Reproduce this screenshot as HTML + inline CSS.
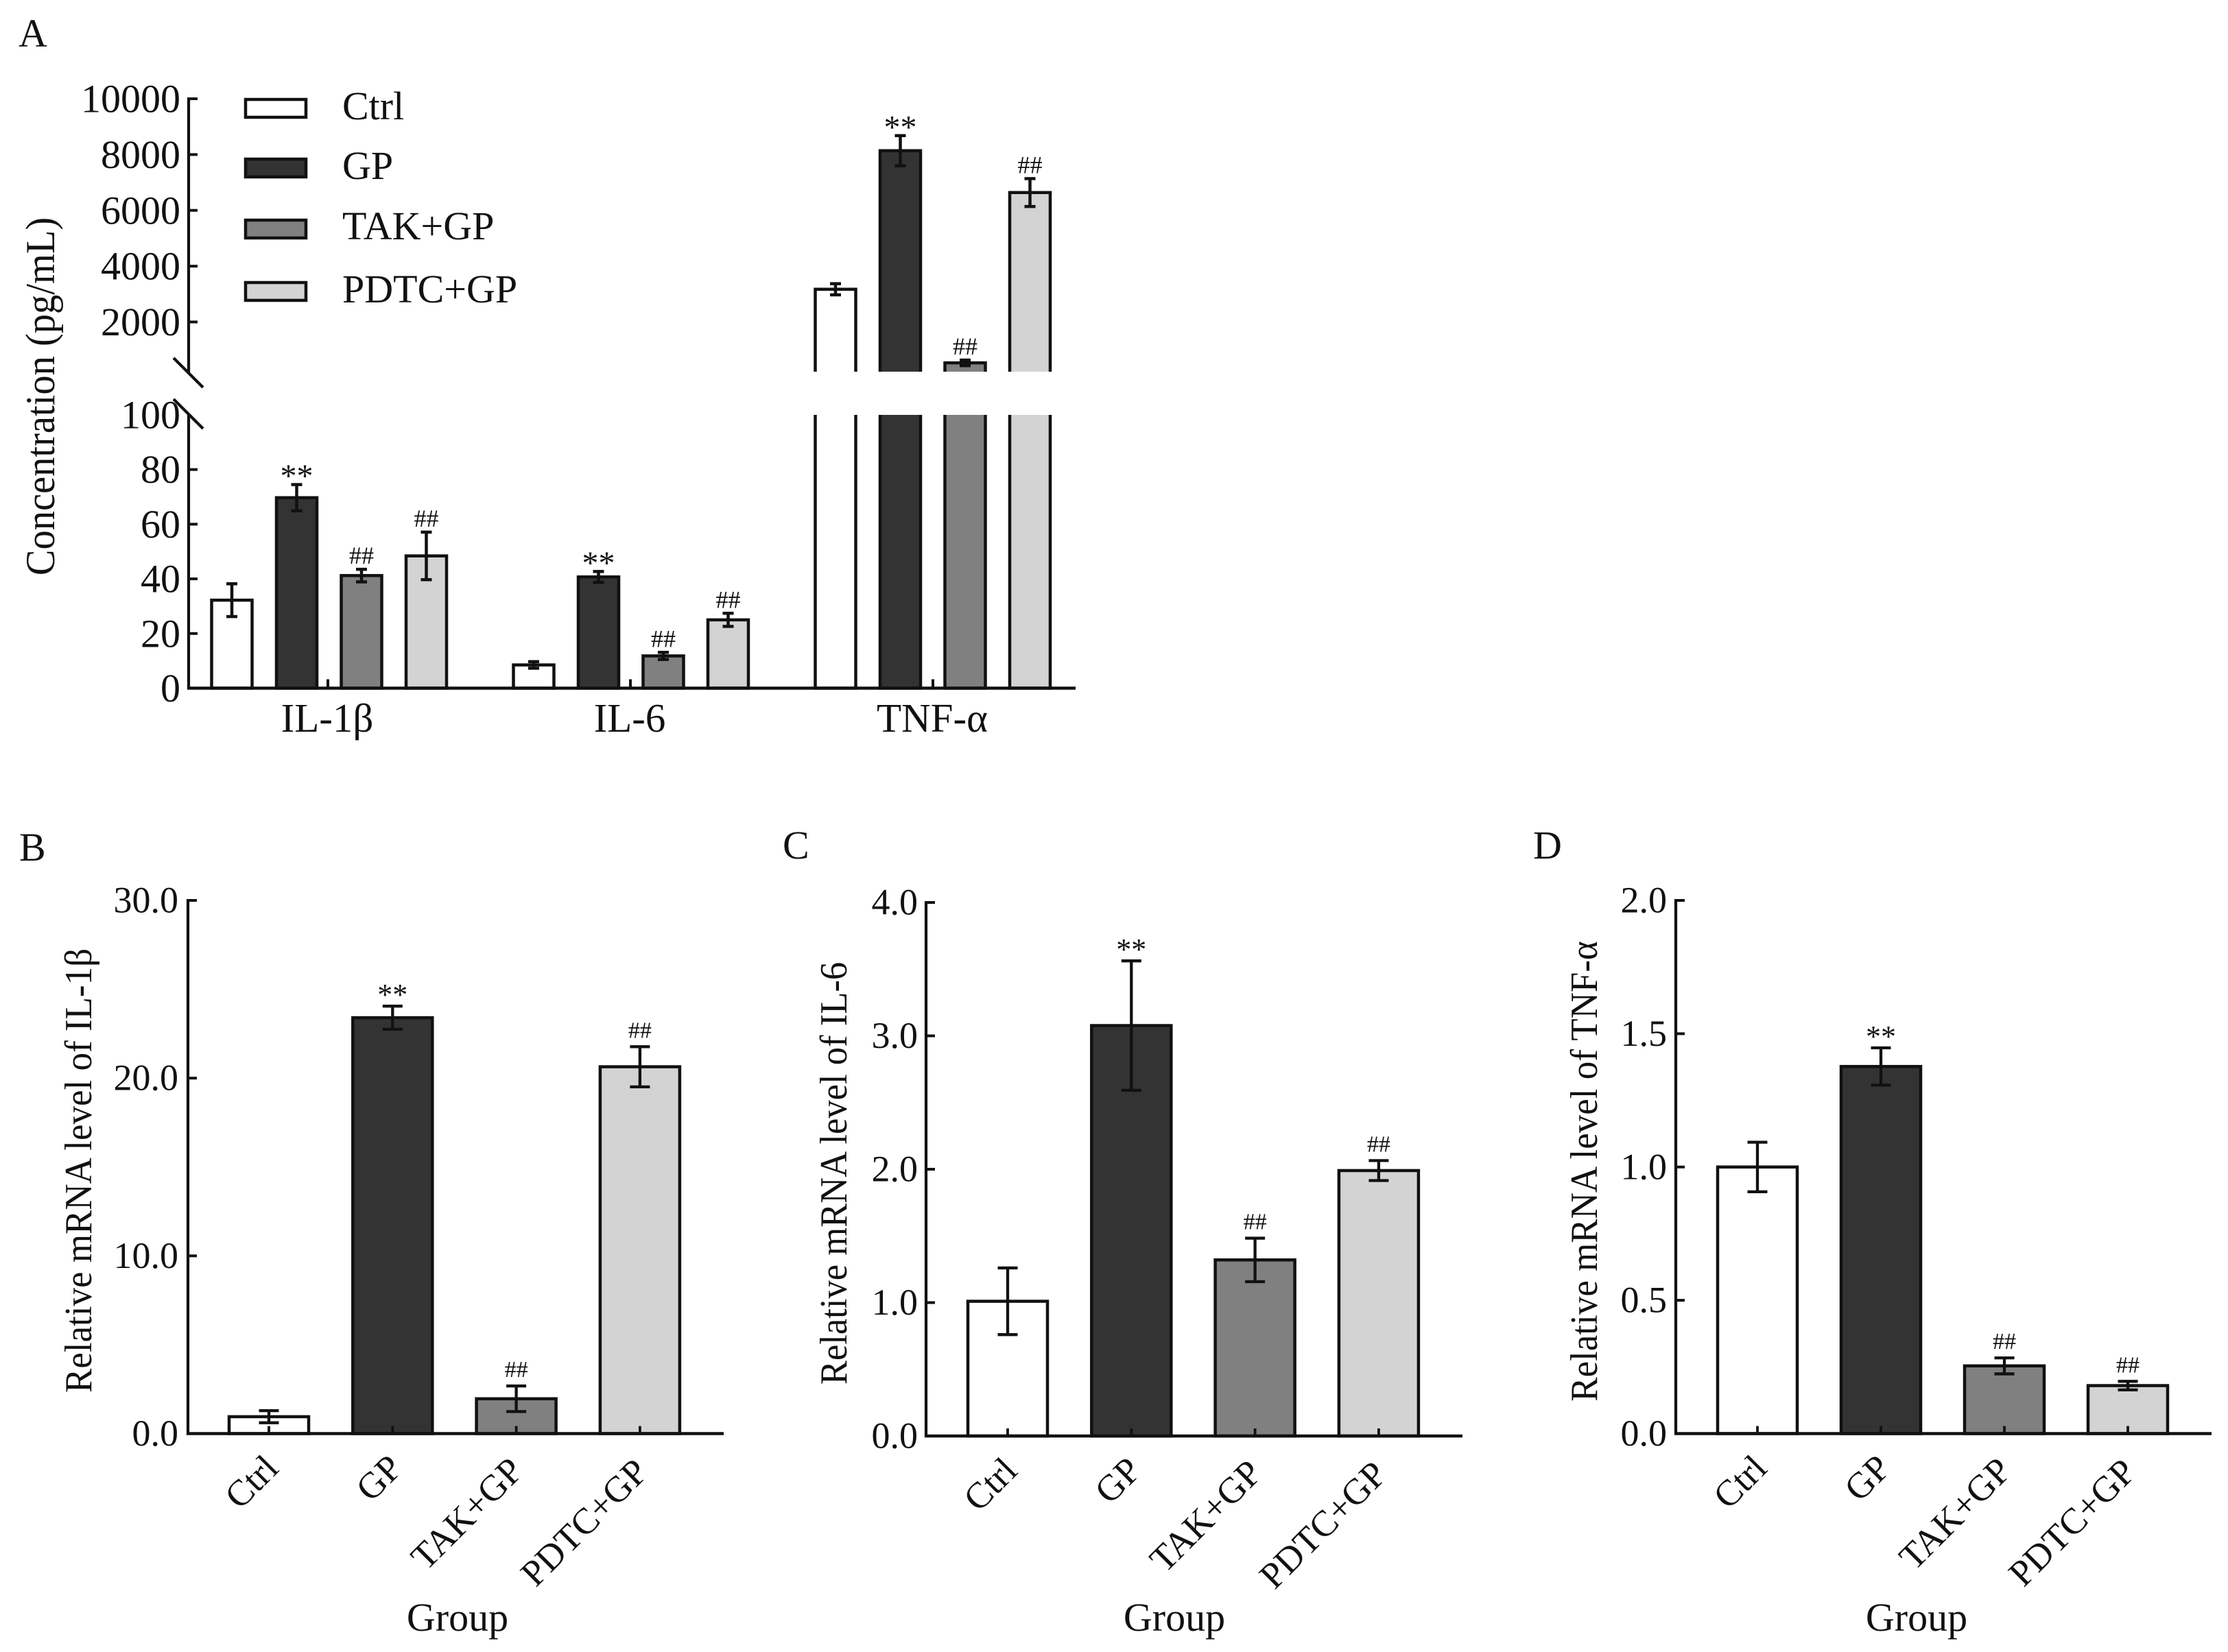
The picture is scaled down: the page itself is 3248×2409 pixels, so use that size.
<!DOCTYPE html>
<html lang="en">
<head>
<meta charset="utf-8">
<title>Cytokine concentration and relative mRNA levels</title>
<style>
html,body{margin:0;padding:0;background:#fff;}
svg{display:block;}
text{font-family:"Liberation Serif","Noto Serif CJK SC",serif;fill:#111;}
</style>
</head>
<body>
<svg id="figure" xmlns="http://www.w3.org/2000/svg" width="3248" height="2409" viewBox="0 0 3248 2409">
<defs>
<clipPath id="clip-upper"><rect x="0" y="0" width="3248" height="542"></rect></clipPath>
<clipPath id="clip-lower"><rect x="0" y="605" width="3248" height="500"></rect></clipPath>
</defs>
<rect x="0" y="0" width="3248" height="2409" fill="#fff"></rect>

<text x="27" y="68" font-size="58">A</text>
<text x="28" y="1255" font-size="58">B</text>
<text x="1141" y="1252" font-size="58">C</text>
<text x="2235" y="1252" font-size="58">D</text>

<text transform="translate(79 578) rotate(-90) scale(1 1.07)" text-anchor="middle" font-size="56.5">Concentration (pg/mL)</text>
<text transform="translate(133 1707) rotate(-90) scale(1 1.06)" text-anchor="middle" font-size="53">Relative mRNA level of IL-1β</text>
<text transform="translate(1234 1711) rotate(-90) scale(1 1.06)" text-anchor="middle" font-size="52.6">Relative mRNA level of IL-6</text>
<text transform="translate(2328 1708) rotate(-90) scale(1 1.06)" text-anchor="middle" font-size="53">Relative mRNA level of TNF-α</text>

<text x="667" y="2378" text-anchor="middle" font-size="58">Group</text>
<text x="1712" y="2378" text-anchor="middle" font-size="58">Group</text>
<text x="2794" y="2378" text-anchor="middle" font-size="58">Group</text>

<g>
<g>
<rect x="358" y="145" width="88" height="26" fill="#ffffff" stroke="#111" stroke-width="4.5"></rect>
<text x="499" y="174" font-size="58">Ctrl</text>
</g>
<g>
<rect x="358" y="232" width="88" height="26" fill="#333333" stroke="#111" stroke-width="4.5"></rect>
<text x="499" y="261" font-size="58">GP</text>
</g>
<g>
<rect x="358" y="321" width="88" height="26" fill="#808080" stroke="#111" stroke-width="4.5"></rect>
<text x="499" y="349" font-size="58">TAK+GP</text>
</g>
<g>
<rect x="358" y="412" width="88" height="26" fill="#d3d3d3" stroke="#111" stroke-width="4.5"></rect>
<text x="499" y="441" font-size="58">PDTC+GP</text>
</g>
</g>
<g id="plots"></g>
</svg>
<script>
// ---- Data ----
const categories = ['Ctrl', 'GP', 'TAK+GP', 'PDTC+GP'];
const panelAGroups = ['IL-1β', 'IL-6', 'TNF-α'];
const panelALowerTicks = [0, 20, 40, 60, 80, 100];
const panelAUpperTicks = [2000, 4000, 6000, 8000, 10000];
const panelAIl1bMeans = [32.2, 69.7, 41.2, 48.4];
const panelAIl1bErrors = [6, 4.8, 2.3, 8.7];
const panelAIl6Means = [8.5, 40.7, 11.8, 25];
const panelAIl6Errors = [1.2, 2, 1.3, 2.4];
const panelATnfMeans = [3172, 8138, 534, 6638];
const panelATnfErrors = [200, 540, 100, 500];
const panelBTicks = [0, 10, 20, 30];
const panelBMeans = [0.95, 23.4, 1.96, 20.64];
const panelBErrors = [0.34, 0.65, 0.72, 1.13];
const panelCTicks = [0, 1, 2, 3, 4];
const panelCMeans = [1.01, 3.077, 1.32, 1.99];
const panelCErrors = [0.25, 0.485, 0.163, 0.075];
const panelDTicks = [0, 0.5, 1, 1.5, 2];
const panelDMeans = [1.0, 1.377, 0.254, 0.18];
const panelDErrors = [0.093, 0.07, 0.03, 0.016];
const significance = ['', '**', '##', '##'];

const fills = ['#ffffff', '#333333', '#808080', '#d3d3d3'];
const INK = '#111';
const NS = 'http://www.w3.org/2000/svg';
const root = document.getElementById('plots');

function linear(d0, d1, r0, r1) {
  return function (v) { return r0 + (v - d0) * (r1 - r0) / (d1 - d0); };
}
function slug(s) {
  return String(s).toLowerCase().replace(/β/g, 'beta').replace(/α/g, 'alpha').replace(/[^a-z0-9]+/g, '-');
}
function drawLine(parent, x1, y1, x2, y2, width, name) {
  const el = document.createElementNS(NS, 'line');
  el.setAttribute('x1', x1);
  el.setAttribute('y1', y1);
  el.setAttribute('x2', x2);
  el.setAttribute('y2', y2);
  el.setAttribute('stroke', INK);
  el.setAttribute('stroke-width', width);
  
  
  parent.appendChild(el);
  return el;
}
function drawText(parent, x, y, str, size, anchor, name, rotate) {
  const el = document.createElementNS(NS, 'text');
  if (rotate) {
    el.setAttribute('transform', 'translate(' + x + ' ' + y + ') rotate(' + rotate + ')');
  } else {
    el.setAttribute('x', x);
    el.setAttribute('y', y);
  }
  el.setAttribute('font-size', size);
  el.setAttribute('text-anchor', anchor);
  el.textContent = str;
  
  
  parent.appendChild(el);
  return el;
}
function drawBar(parent, cx, width, top, bottom, fill, clip, name) {
  const el = document.createElementNS(NS, 'rect');
  el.setAttribute('x', cx - width / 2);
  el.setAttribute('y', top);
  el.setAttribute('width', width);
  el.setAttribute('height', Math.max(0, bottom - top));
  el.setAttribute('fill', fill);
  el.setAttribute('stroke', INK);
  el.setAttribute('stroke-width', 4.5);
  if (clip) el.setAttribute('clip-path', 'url(#' + clip + ')');
  
  
  parent.appendChild(el);
  return el;
}
function drawError(parent, cx, top, bottom, capWidth, width, name) {
  const g = document.createElementNS(NS, 'g');
  
  
  parent.appendChild(g);
  drawLine(g, cx, top, cx, bottom, width, 'error-bar-stem');
  drawLine(g, cx - capWidth / 2, top, cx + capWidth / 2, top, width, 'error-bar-cap-top');
  drawLine(g, cx - capWidth / 2, bottom, cx + capWidth / 2, bottom, width, 'error-bar-cap-bottom');
}
function drawMark(parent, cx, errTop, mark, starSize, hashSize, starOffset, hashOffset, name) {
  if (!mark) return;
  if (mark === '**') {
    drawText(parent, cx, errTop + starOffset, mark, starSize, 'middle', name);
  } else {
    drawText(parent, cx, errTop + hashOffset, mark, hashSize, 'middle', name);
  }
}

// ---- Panel A: broken y axis, grouped bars ----
function drawPanelA() {
  const g = document.createElementNS(NS, 'g');
  
  
  root.appendChild(g);

  const axisX = 275;
  const baseY = 1003.5;
  const yLower = linear(0, 100, baseY, 605);
  const yUpper = linear(2000, 10000, 469.5, 144);
  const isBroken = function (v) { return v > 100; };
  const yValue = function (v) { return isBroken(v) ? yUpper(v) : yLower(v); };
  const xBar = function (group, series) { return 338 + group * 440 + series * 94.5; };
  const xGroup = function (group) { return 478 + group * 441; };
  const meansByGroup = [panelAIl1bMeans, panelAIl6Means, panelATnfMeans];
  const errorsByGroup = [panelAIl1bErrors, panelAIl6Errors, panelATnfErrors];

  meansByGroup.forEach(function (means, gi) {
    means.forEach(function (v, si) {
      const cx = xBar(gi, si);
      const nm = 'bar-' + slug(panelAGroups[gi]) + '-' + slug(categories[si]);
      if (isBroken(v)) {
        drawBar(g, cx, 59, yUpper(v), 560, fills[si], 'clip-upper', nm + '-upper');
        drawBar(g, cx, 59, 590, baseY, fills[si], 'clip-lower', nm + '-lower');
      } else {
        drawBar(g, cx, 59, yValue(v), baseY, fills[si], null, nm);
      }
    });
  });

  meansByGroup.forEach(function (means, gi) {
    means.forEach(function (v, si) {
      const cx = xBar(gi, si);
      const e = errorsByGroup[gi][si];
      const top = yValue(v + e);
      const bottom = yValue(v - e);
      const nm = slug(panelAGroups[gi]) + '-' + slug(categories[si]);
      drawError(g, cx, top, bottom, 16, 4.5, 'error-bar-' + nm);
      drawMark(g, cx, top, significance[si], 48, 36, 3.5, -8, 'significance-' + nm);
    });
  });

  // axes
  drawLine(g, axisX, 142, axisX, 544, 4.2, 'panel-a-y-axis-upper');
  drawLine(g, axisX, 603, axisX, baseY + 2, 4.2, 'panel-a-y-axis-lower');
  drawLine(g, 273, baseY, 1568, baseY, 4.5, 'panel-a-x-axis');
  drawLine(g, 253, 522, 296, 565, 4.2, 'axis-break-mark-upper');
  drawLine(g, 253, 582, 296, 625, 4.2, 'axis-break-mark-lower');

  panelAUpperTicks.forEach(function (t) {
    const y = yUpper(t);
    drawLine(g, axisX, y, axisX + 13, y, 4, 'y-tick-' + t);
    drawText(g, 263, y + 19.5, String(t), 58, 'end', 'y-tick-label-' + t);
  });
  panelALowerTicks.forEach(function (t) {
    const y = yLower(t);
    if (t !== 100) drawLine(g, axisX, y, axisX + 13, y, 4, 'y-tick-' + t);
    drawText(g, 263, y + 19.5, String(t), 58, 'end', 'y-tick-label-' + t);
  });
  panelAGroups.forEach(function (name, gi) {
    const x = xGroup(gi);
    drawLine(g, x, baseY, x, baseY - 13, 4, 'x-tick-' + slug(name));
    drawText(g, x - 1, 1067, name, 59, 'middle', 'x-tick-label-' + slug(name));
  });
}

// ---- Panels B, C, D: single-series bars ----
function drawSimplePanel(id, means, errors, ticks, decimals, axisX, axisEnd, yTop, yBase, xFirst, pitch, labelRight) {
  const g = document.createElementNS(NS, 'g');
  
  
  root.appendChild(g);

  const yScale = linear(ticks[0], ticks[ticks.length - 1], yBase, yTop);
  const xScale = function (i) { return xFirst + i * pitch; };

  means.forEach(function (v, i) {
    drawBar(g, xScale(i), 116, yScale(v), yBase, fills[i], null, 'bar-' + id + '-' + slug(categories[i]));
  });
  means.forEach(function (v, i) {
    const top = yScale(v + errors[i]);
    const bottom = yScale(v - errors[i]);
    const nm = id + '-' + slug(categories[i]);
    drawError(g, xScale(i), top, bottom, 29, 4.3, 'error-bar-' + nm);
    drawMark(g, xScale(i), top, significance[i], 44, 34, -2, -13, 'significance-' + nm);
  });

  drawLine(g, axisX, yTop - 2, axisX, yBase + 2, 4.2, 'panel-' + id + '-y-axis');
  drawLine(g, axisX - 2, yBase, axisEnd, yBase, 4.5, 'panel-' + id + '-x-axis');

  ticks.forEach(function (t) {
    const y = yScale(t);
    drawLine(g, axisX, y, axisX + 13, y, 4, 'y-tick-' + id + '-' + slug(t));
    drawText(g, labelRight - 1, y + 17.5, t.toFixed(decimals), 54, 'end', 'y-tick-label-' + id + '-' + slug(t));
  });
  categories.forEach(function (c, i) {
    const x = xScale(i);
    drawLine(g, x, yBase, x, yBase - 11, 3.8, 'x-tick-' + id + '-' + slug(c));
    const label = drawText(g, x + 10, yBase + 60, c, 53.5, 'end', 'x-tick-label-' + id + '-' + slug(c), -45);
    // label end offset along the baseline direction, depending on label length
    const len = label.getComputedTextLength();
    const nudge = len > 225 ? 4.5 : Math.max(1, 9 - 0.03 * len);
    label.setAttribute('transform', 'translate(' + (x + 10 + nudge) + ' ' + (yBase + 60 - (len > 225 ? 1 : nudge)) + ') rotate(-45)');
  });
}

drawPanelA();
drawSimplePanel('b', panelBMeans, panelBErrors, panelBTicks, 1, 274, 1055, 1313, 2090.5, 392, 180.3, 261);
drawSimplePanel('c', panelCMeans, panelCErrors, panelCTicks, 1, 1350, 2132, 1316, 2094, 1469, 180.3, 1339);
drawSimplePanel('d', panelDMeans, panelDErrors, panelDTicks, 1, 2443, 3224, 1313, 2090.5, 2562, 180, 2431);
</script>
</body>
</html>
